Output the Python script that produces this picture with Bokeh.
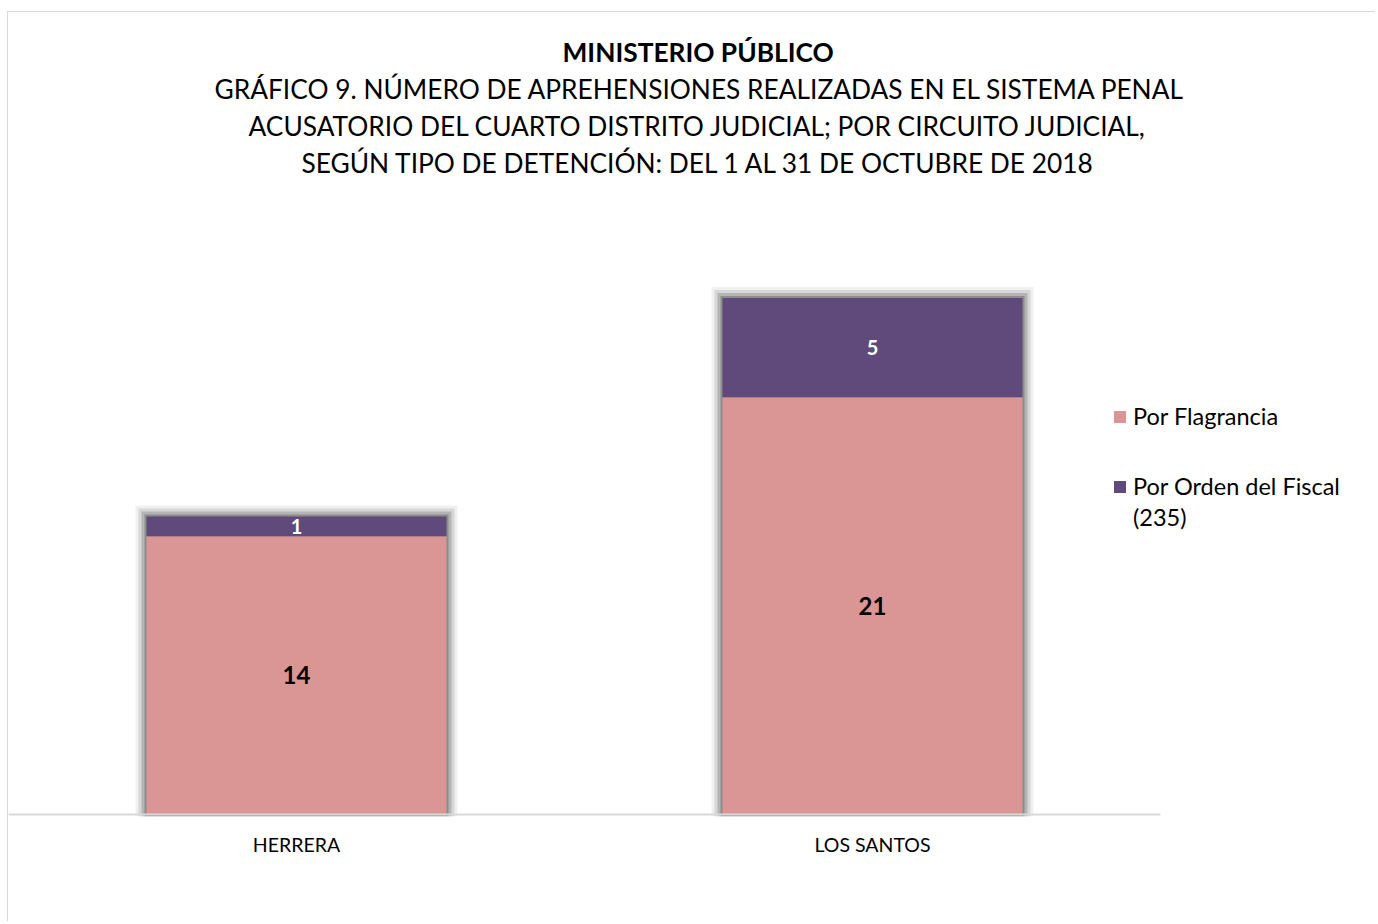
from bokeh.plotting import figure
from bokeh.models import (ColumnDataSource, Range1d, Title, Legend,
                          LegendItem, LabelSet, FixedTicker)
from bokeh.core.properties import value
from bokeh.embed import file_html
from bokeh.resources import INLINE

# ---- data ----
circuits = ["HERRERA", "LOS SANTOS"]
flagrancia = [14, 21]
orden_fiscal = [1, 5]
series_keys = ["flagrancia", "orden"]
series_names = ["Por Flagrancia", "Por Orden del Fiscal", "(235)"]
colors = ["#D99694", "#604A7B"]
title_main = "MINISTERIO PÚBLICO"
title_lines = [
    "GRÁFICO 9. NÚMERO DE APREHENSIONES REALIZADAS EN EL SISTEMA PENAL",
    "ACUSATORIO DEL  CUARTO DISTRITO JUDICIAL; POR CIRCUITO JUDICIAL,",
    "SEGÚN  TIPO DE DETENCIÓN: DEL 1 AL 31 DE OCTUBRE DE 2018",
]

FONT = "Lato"
W, H = 1368, 910
CAT_PX = 576            # pixel width of one category slot
PX_PER_UNIT = 19.87
FRAME_TOP = 168
FRAME_BOTTOM = 804
FRAME_H = FRAME_BOTTOM - FRAME_TOP
BASE_PX = 2              # baseline sits this far above the frame bottom
BAR_W = 300 / CAT_PX

positions = list(range(len(circuits)))
totals = [a + b for a, b in zip(flagrancia, orden_fiscal)]
src = ColumnDataSource(dict(
    x=positions,
    flagrancia=flagrancia,
    orden=orden_fiscal,
    y_f=[v / 2 for v in flagrancia],
    y_o=[a + b / 2 for a, b in zip(flagrancia, orden_fiscal)],
    lab_f=[str(v) for v in flagrancia],
    lab_o=[str(v) for v in orden_fiscal],
))

p = figure(width=W, height=H,
           x_range=Range1d(-0.5, -0.5 + W / CAT_PX),
           y_range=Range1d(-BASE_PX / PX_PER_UNIT,
                           (FRAME_H - BASE_PX) / PX_PER_UNIT),
           output_backend="svg", toolbar_location=None,
           min_border_left=0, min_border_right=0,
           min_border_top=FRAME_TOP, min_border_bottom=H - FRAME_BOTTOM)
p.styles = {"border-left": "1px solid #D9D9D9", "border-top": "1px solid #D9D9D9",
            "margin-left": "7px", "margin-top": "11px"}

p.outline_line_color = None
p.background_fill_color = "white"
p.border_fill_color = "white"
p.xgrid.grid_line_color = None
p.ygrid.grid_line_color = None
p.yaxis.visible = False
p.xaxis.axis_line_color = None
p.xaxis.major_tick_line_color = None
p.xaxis.minor_tick_line_color = None
p.xaxis.major_tick_out = 0
p.xaxis.major_tick_in = 0
p.xaxis.ticker = FixedTicker(ticks=positions)
p.xaxis.major_label_overrides = {i: c for i, c in zip(positions, circuits)}
p.xaxis.major_label_text_font = FONT
p.xaxis.major_label_text_font_size = "19.5px"
p.xaxis.major_label_text_color = "#000000"
p.xaxis.major_label_standoff = 16

# soft shadow layers behind stacks
for grow_px, up_px, alpha in [(22, 11, 0.06), (16, 8, 0.10), (10, 5, 0.16), (4, 2, 0.22)]:
    shadow_src = ColumnDataSource(dict(x=positions,
                                       top=[t + up_px / PX_PER_UNIT for t in totals]))
    p.vbar(x="x", top="top", bottom=-BASE_PX / PX_PER_UNIT,
           width=BAR_W + grow_px / CAT_PX,
           source=shadow_src, fill_color="#000000", fill_alpha=alpha,
           line_color=None)

rs = p.vbar_stack(series_keys, x="x", width=BAR_W, color=colors,
                  line_color=None, source=src)

# category baseline (spans the category slots only)
p.segment(x0=[positions[0] - 0.5], x1=[positions[-1] + 0.5], y0=[0], y1=[0],
          line_color="#D9D9D9", line_width=2)

p.add_layout(LabelSet(x="x", y="y_f", text="lab_f", source=src,
                      text_align="center", text_baseline="middle",
                      text_font=value(FONT), text_font_style="bold",
                      text_font_size="24px", text_color="#000000"))
p.add_layout(LabelSet(x="x", y="y_o", text="lab_o", source=src,
                      text_align="center", text_baseline="middle",
                      text_font=value(FONT), text_font_style="bold",
                      text_font_size="20px", text_color="#FFFFFF"))

# invisible glyph for the legend's continuation line
dummy = p.scatter(x=[], y=[], size=1, fill_alpha=0, line_alpha=0)

legend_style = dict(orientation="vertical", glyph_width=15, glyph_height=15,
                    label_standoff=6, padding=0, margin=0,
                    label_text_font=FONT, label_text_font_size="23.5px",
                    label_text_color="#000000", border_line_color=None,
                    background_fill_alpha=0)
legend_a = Legend(items=[LegendItem(label=series_names[0], renderers=[rs[0]])],
                  location=(1104, 386), **legend_style)
legend_b = Legend(items=[LegendItem(label=series_names[1], renderers=[rs[1]]),
                         LegendItem(label=series_names[2], renderers=[dummy])],
                  location=(1104, 285), spacing=3, **legend_style)
p.add_layout(legend_a)
p.add_layout(legend_b)

# left offsets (px from the frame's left edge) for each title line
line_offsets = [206, 240, 293]
for line, off in reversed(list(zip(title_lines, line_offsets))):
    p.add_layout(Title(text=line, align="left", offset=off,
                       text_font=FONT, text_font_size="26.3px",
                       text_font_style="normal", text_color="#000000",
                       standoff=3), "above")
p.add_layout(Title(text=title_main, align="left", offset=554,
                   text_font=FONT, text_font_size="26.3px",
                   text_font_style="bold", text_color="#000000",
                   standoff=3), "above")

open("out.html", "w").write(file_html(p, INLINE))
